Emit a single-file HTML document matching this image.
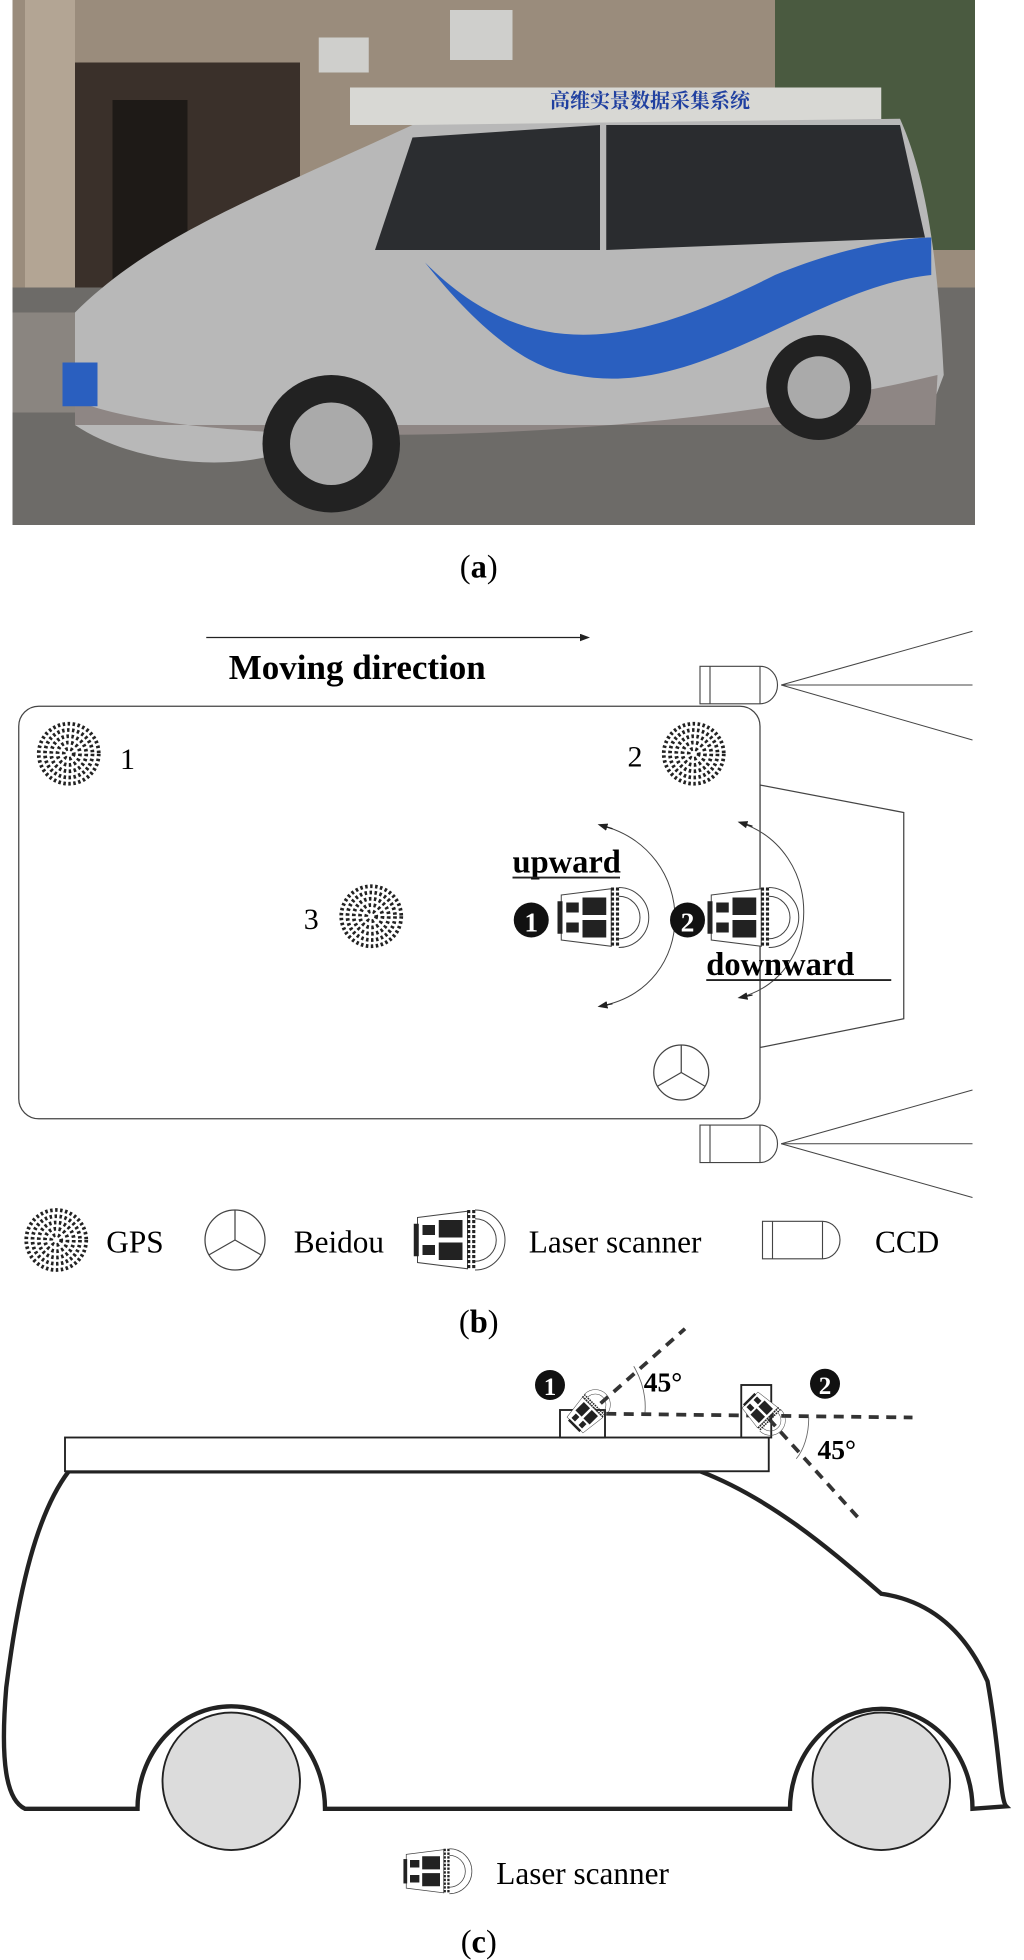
<!DOCTYPE html>
<html><head><meta charset="utf-8"><style>
html,body{margin:0;padding:0;background:#fff;}
svg{display:block;}
text{font-family:"Liberation Serif","Noto Serif CJK SC",serif;}
</style></head><body>
<svg width="1024" height="1960" viewBox="0 0 819.2 1568" xmlns="http://www.w3.org/2000/svg">
<defs>
<g id="ls">
  <polygon points="0,-18 40,-23 40,23 0,18" fill="#fff" stroke="#444" stroke-width="0.8"/>
  <rect x="-3" y="-13" width="4" height="26" fill="#222"/>
  <rect x="4" y="-12" width="10" height="8" fill="#222"/>
  <rect x="4" y="4" width="10" height="8" fill="#222"/>
  <rect x="17" y="-16" width="19" height="14" fill="#222"/>
  <rect x="17" y="2" width="19" height="14" fill="#222"/>
  <line x1="41" y1="-24" x2="41" y2="24" stroke="#222" stroke-width="2.5" stroke-dasharray="2.5,1.5"/>
  <line x1="45" y1="-24" x2="45" y2="24" stroke="#222" stroke-width="2.5" stroke-dasharray="2.5,1.5"/>
  <path d="M46,-17 A17,17 0 0 1 46,17" fill="none" stroke="#444" stroke-width="0.8"/>
  <path d="M46,-24 A24,24 0 0 1 46,24" fill="none" stroke="#444" stroke-width="0.8"/>
</g>
<g id="gps">
  <circle r="26" fill="#fff"/>
  <circle r="24" fill="none" stroke="#222" stroke-width="3" stroke-dasharray="2,2"/>
  <circle r="19" fill="none" stroke="#222" stroke-width="3" stroke-dasharray="2,2"/>
  <circle r="14" fill="none" stroke="#222" stroke-width="3" stroke-dasharray="2,2"/>
  <circle r="9" fill="none" stroke="#222" stroke-width="3" stroke-dasharray="2,2"/>
  <circle r="4" fill="none" stroke="#222" stroke-width="3" stroke-dasharray="2,2"/>
</g>
<g id="ccd">
  <path d="M0,0 H48 A14,15 0 0 1 48,30 H0 Z" fill="#fff" stroke="#444" stroke-width="0.9"/>
  <line x1="8" y1="0" x2="8" y2="30" stroke="#444" stroke-width="0.9"/>
  <line x1="48" y1="0" x2="48" y2="30" stroke="#444" stroke-width="0.9"/>
</g>
<marker id="ah" markerWidth="8" markerHeight="6" refX="6" refY="3" orient="auto"><path d="M0,0 L8,3 L0,6 Z" fill="#222"/></marker>
</defs>

<!-- (a) photo -->
<rect x="10" y="0" width="770" height="420" fill="#7d766c"/>
<rect x="10" y="0" width="770" height="230" fill="#9a8c7c"/>
<rect x="60" y="50" width="180" height="180" fill="#3a302a"/>
<rect x="90" y="80" width="60" height="150" fill="#1e1a17"/>
<rect x="20" y="0" width="40" height="230" fill="#b3a594"/>
<rect x="620" y="0" width="160" height="200" fill="#4a5a40"/>
<rect x="10" y="230" width="770" height="190" fill="#6d6b68"/>
<rect x="10" y="250" width="60" height="80" fill="#8a8580"/>
<path d="M280,70 H705 V100 H280 Z" fill="#d8d8d4"/>
<rect x="255" y="30" width="40" height="28" fill="#cfcfcc"/>
<rect x="360" y="8" width="50" height="40" fill="#cfcfcc"/>
<text x="440" y="86" font-size="16" font-weight="bold" fill="#2040a0" font-family="Noto Sans CJK SC, sans-serif">高维实景数据采集系统</text>
<path d="M60,250 C120,190 200,160 330,100 L720,95 C740,140 750,200 755,300 L740,340 H260 C230,380 120,380 60,340 Z" fill="#b8b8b8"/>
<path d="M330,110 L480,100 L480,200 L300,200 Z" fill="#2b2d30"/>
<path d="M485,100 L720,100 L740,190 L485,200 Z" fill="#2a2c2f"/>
<path d="M340,210 C430,300 520,270 620,220 C680,195 730,190 745,190 L745,220 C650,230 560,320 460,300 C420,295 380,260 340,210 Z" fill="#2a5fbf"/>
<path d="M60,320 C150,360 500,360 750,300 L748,340 H60 Z" fill="#8e8684"/>
<circle cx="265" cy="355" r="55" fill="#222"/><circle cx="265" cy="355" r="33" fill="#aaa"/>
<circle cx="655" cy="310" r="42" fill="#222"/><circle cx="655" cy="310" r="25" fill="#aaa"/>
<rect x="50" y="290" width="28" height="35" fill="#2a5fbf"/>
<text x="383" y="462" font-size="26" text-anchor="middle">(<tspan font-weight="bold">a</tspan>)</text>

<!-- (b) -->
<line x1="165" y1="510" x2="470" y2="510" stroke="#222" stroke-width="1" marker-end="url(#ah)"/>
<text x="183" y="543" font-size="28" font-weight="bold">Moving direction</text>
<polygon points="608,628 723,650 723,815 608,838" fill="#fff" stroke="#444" stroke-width="1"/>
<rect x="15" y="565" width="593" height="330" rx="16" fill="#fff" stroke="#444" stroke-width="1"/>
<use href="#ccd" x="560" y="533"/>
<line x1="625" y1="548" x2="778" y2="505" stroke="#444" stroke-width="0.8"/>
<line x1="625" y1="548" x2="778" y2="548" stroke="#444" stroke-width="0.8"/>
<line x1="625" y1="548" x2="778" y2="592" stroke="#444" stroke-width="0.8"/>
<use href="#ccd" x="560" y="900"/>
<line x1="625" y1="915" x2="778" y2="872" stroke="#444" stroke-width="0.8"/>
<line x1="625" y1="915" x2="778" y2="915" stroke="#444" stroke-width="0.8"/>
<line x1="625" y1="915" x2="778" y2="958" stroke="#444" stroke-width="0.8"/>
<use href="#gps" x="55" y="603"/>
<use href="#gps" x="555" y="603"/>
<use href="#gps" x="297" y="733"/>
<text x="96" y="615" font-size="24">1</text>
<text x="502" y="613" font-size="24">2</text>
<text x="243" y="743" font-size="24">3</text>
<path d="M480,660 C560,680 560,790 480,805" fill="none" stroke="#444" stroke-width="0.8"/>
<path d="M490,663 L480,660" stroke="#222" marker-end="url(#ah)"/>
<path d="M490,803 L480,805" stroke="#222" marker-end="url(#ah)"/>
<path d="M592,658 C660,680 660,780 592,798" fill="none" stroke="#444" stroke-width="0.8"/>
<path d="M602,661 L592,658" stroke="#222" marker-end="url(#ah)"/>
<path d="M602,796 L592,798" stroke="#222" marker-end="url(#ah)"/>
<text x="410" y="698" font-size="26" font-weight="bold">upward</text>
<line x1="410" y1="702" x2="496" y2="702" stroke="#222" stroke-width="1.5"/>
<text x="565" y="780" font-size="26" font-weight="bold">downward</text>
<line x1="565" y1="784" x2="713" y2="784" stroke="#222" stroke-width="1.5"/>
<use href="#ls" x="449" y="734"/>
<use href="#ls" x="569" y="734"/>
<circle cx="425" cy="736" r="14" fill="#111"/><text x="425" y="745" font-size="22" font-weight="bold" fill="#fff" text-anchor="middle">1</text>
<circle cx="550" cy="736" r="14" fill="#111"/><text x="550" y="745" font-size="22" font-weight="bold" fill="#fff" text-anchor="middle">2</text>
<g transform="translate(545,858)"><circle r="22" fill="#fff" stroke="#444" stroke-width="1"/><line x1="0" y1="0" x2="0" y2="-22" stroke="#444"/><line x1="0" y1="0" x2="19" y2="11" stroke="#444"/><line x1="0" y1="0" x2="-19" y2="11" stroke="#444"/></g>
<use href="#gps" x="45" y="992"/>
<text x="85" y="1002" font-size="25">GPS</text>
<g transform="translate(188,992)"><circle r="24" fill="#fff" stroke="#444" stroke-width="1"/><line x1="0" y1="0" x2="0" y2="-24" stroke="#444"/><line x1="0" y1="0" x2="21" y2="12" stroke="#444"/><line x1="0" y1="0" x2="-21" y2="12" stroke="#444"/></g>
<text x="235" y="1002" font-size="25">Beidou</text>
<use href="#ls" x="334" y="992"/>
<text x="423" y="1002" font-size="25">Laser scanner</text>
<use href="#ccd" x="610" y="977"/>
<text x="700" y="1002" font-size="25">CCD</text>
<text x="383" y="1066" font-size="26" text-anchor="middle">(<tspan font-weight="bold">b</tspan>)</text>

<!-- (c) -->
<path d="M55,1177 H560 C620,1200 670,1245 705,1275 C740,1280 770,1300 790,1345 C800,1400 800,1440 805,1445 L778,1447 A73,80 0 0 0 632,1447 H260 A75,82 0 0 0 110,1447 L20,1447 C5,1440 0,1410 5,1350 C15,1270 30,1210 55,1177 Z" fill="#fff" stroke="#222" stroke-width="3.5"/>
<circle cx="185" cy="1425" r="55" fill="#dcdcdc" stroke="#222" stroke-width="1.5"/>
<circle cx="705" cy="1425" r="55" fill="#dcdcdc" stroke="#222" stroke-width="1.5"/>
<rect x="52" y="1150" width="563" height="27" fill="#fff" stroke="#222" stroke-width="1.5"/>
<rect x="448" y="1128" width="36" height="22" fill="#fff" stroke="#222" stroke-width="1.5"/>
<rect x="593" y="1108" width="24" height="42" fill="#fff" stroke="#222" stroke-width="1.5"/>
<line x1="485" y1="1131" x2="730" y2="1134" stroke="#333" stroke-width="3" stroke-dasharray="8,6"/>
<line x1="470" y1="1132" x2="548" y2="1063" stroke="#333" stroke-width="3" stroke-dasharray="8,6"/>
<line x1="615" y1="1135" x2="690" y2="1218" stroke="#333" stroke-width="3" stroke-dasharray="8,6"/>
<path d="M507,1093 C514,1105 517,1117 516,1130" fill="none" stroke="#666" stroke-width="0.7"/>
<path d="M647,1134 C647,1148 643,1160 637,1167" fill="none" stroke="#666" stroke-width="0.7"/>
<use href="#ls" transform="translate(460,1140) rotate(-45) scale(0.5)"/>
<use href="#ls" transform="translate(600,1120) rotate(45) scale(0.5)"/>
<text x="515" y="1113" font-size="22" font-weight="bold">45°</text>
<text x="654" y="1167" font-size="22" font-weight="bold">45°</text>
<circle cx="440" cy="1108" r="12" fill="#111"/><text x="440" y="1116" font-size="20" font-weight="bold" fill="#fff" text-anchor="middle">1</text>
<circle cx="660" cy="1107" r="12" fill="#111"/><text x="660" y="1115" font-size="20" font-weight="bold" fill="#fff" text-anchor="middle">2</text>
<use href="#ls" transform="translate(325,1497) scale(0.75)"/>
<text x="397" y="1507" font-size="25">Laser scanner</text>
<text x="383" y="1562" font-size="26" text-anchor="middle">(<tspan font-weight="bold">c</tspan>)</text>
</svg>
</body></html>
